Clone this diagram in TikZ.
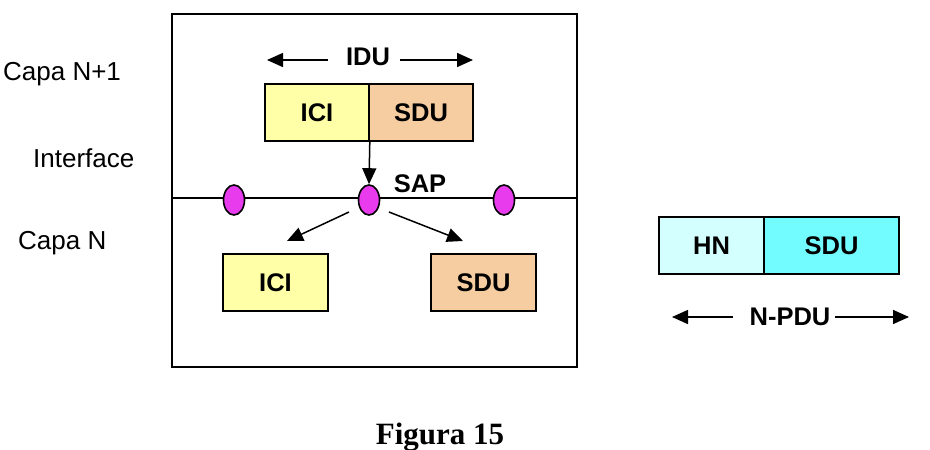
\documentclass[tikz,border=0pt]{standalone}
\usepackage{fontspec}
\setmainfont{Liberation Sans}
\newfontfamily\figfont{Liberation Serif}
\usetikzlibrary{arrows.meta,shapes.geometric}
\definecolor{iciyel}{HTML}{FFFFA8}
\definecolor{sdutan}{HTML}{F6CDA0}
\definecolor{hncyan}{HTML}{D4FFFF}
\definecolor{sducyan}{HTML}{73FCFF}
\definecolor{sapmag}{HTML}{E83BEE}
\tikzset{
  lbl/.style={font=\fontsize{26}{30}\selectfont, inner sep=0pt},
  blbl/.style={font=\fontsize{25.5}{30}\selectfont\bfseries, inner sep=0pt},
  pbox/.style={draw, line width=1.6pt, inner sep=0pt, font=\fontsize{25.5}{30}\selectfont\bfseries},
  sap/.style={draw, ellipse, line width=1.6pt, fill=sapmag, minimum width=21pt, minimum height=30pt, inner sep=0pt},
  arr/.style={line width=1.5pt, -{Triangle[length=16pt,width=14pt]}},
}
\begin{document}
\begin{tikzpicture}[x=1pt,y=-1pt]
\useasboundingbox (0,0) rectangle (930,450);
% outer frame
\draw[line width=1.9pt] (172,14) rectangle (577,367);
\coordinate (ifl) at (172,198);
\coordinate (ifr) at (577,198);
\draw[line width=1.9pt] (ifl) -- (ifr);
% side labels
\node[lbl, anchor=west] (capan1) at (3,74) {Capa N+1};
\node[lbl, anchor=west] (interf) at (33,158) {Interface};
\node[lbl, anchor=west] (capan) at (18,243) {Capa N};
% IDU
\node[blbl] (idu) at (368,57) {IDU};
\coordinate (iduL) at (267,60);
\coordinate (iduR) at (473,60);
\draw[arr] (328,60) -- (iduL);
\draw[arr] (400,60) -- (iduR);
% upper boxes
\node[pbox, fill=iciyel, minimum width=104pt, minimum height=57pt] (ici1) at (317,112.5) {ICI};
\node[pbox, fill=sdutan, minimum width=104pt, minimum height=57pt] (sdu1) at (421,112.5) {SDU};
% SAPs
\node[sap] (sapL) at (234,200) {};
\node[sap] (sapC) at (369,200) {};
\node[sap] (sapR) at (504,200) {};
\node[blbl] (saplbl) at (420,184) {SAP};
\draw[arr] (ici1.south east) -- (sapC.north);
% lower arrows
\coordinate (aL) at (287,241);
\coordinate (aR) at (463,241);
\draw[arr] (349,212) -- (aL);
\draw[arr] (389,212) -- (aR);
% lower boxes
\node[pbox, fill=iciyel, minimum width=105pt, minimum height=57pt] (ici2) at (275.5,282.5) {ICI};
\node[pbox, fill=sdutan, minimum width=105pt, minimum height=57pt] (sdu2) at (483.5,282.5) {SDU};
% right PDU
\node[pbox, fill=hncyan, line width=1.2pt, minimum width=105pt, minimum height=57pt] (hn) at (711.5,245.5) {HN};
\node[pbox, fill=sducyan, line width=1.2pt, minimum width=135pt, minimum height=57pt] (sdu3) at (831.5,245.5) {SDU};
\node[blbl] (npdu) at (790,317) {N-PDU};
\coordinate (pL) at (672,317);
\coordinate (pR) at (909,317);
\draw[arr] (733,317) -- (pL);
\draw[arr] (835,317) -- (pR);
% caption
\node[inner sep=0pt, font=\figfont\fontsize{31}{36}\selectfont\bfseries] (cap) at (440,437) {Figura 15};
\end{tikzpicture}
\end{document}
